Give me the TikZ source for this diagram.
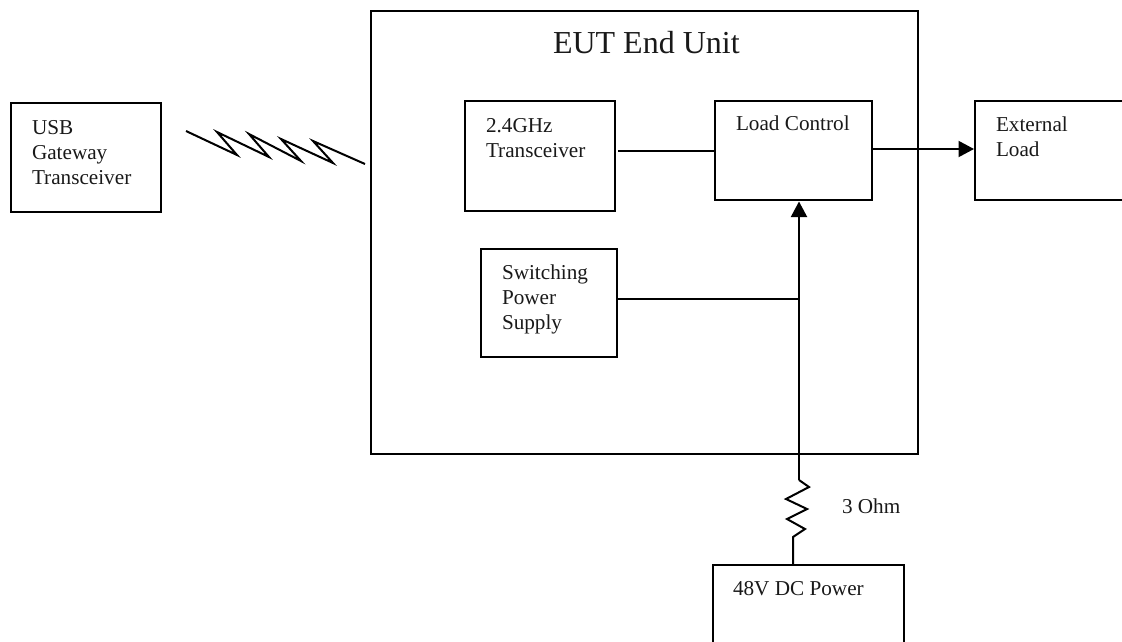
\documentclass[tikz,border=0pt]{standalone}
\usepackage{fontspec}
\setmainfont{Liberation Serif}
\usetikzlibrary{arrows.meta}
\tikzset{
  blockbox/.style={draw=black,line width=2pt,rectangle,inner sep=0pt,outer sep=0pt,minimum width=#1,anchor=north west},
  wire/.style={draw=black,line width=2pt,line join=miter},
  tag/.style={inner sep=0pt,outer sep=0pt,anchor=north west,align=left,font=\fontsize{21.2}{25}\selectfont,text=black!90},
  tip/.style={-{Triangle[length=15.5pt,width=16pt]}}
}
\begin{document}
\begin{tikzpicture}[x=1pt,y=-1pt]
\useasboundingbox (0,0) rectangle (1122,641);
\clip (0,0) rectangle (1122,641);
\node[blockbox=150pt,minimum height=109pt] (usb) at (11,103) {};
\node[blockbox=547pt,minimum height=443pt] (eut) at (371,11) {};
\node[blockbox=150pt,minimum height=110pt] (rf) at (465,101) {};
\node[blockbox=157pt,minimum height=99pt] (lc) at (715,101) {};
\node[blockbox=170pt,minimum height=99pt] (ext) at (975,101) {};
\node[blockbox=136pt,minimum height=108pt] (sw) at (481,249) {};
\node[blockbox=191pt,minimum height=100pt] (dc) at (713,565) {};

\node[tag,font=\fontsize{32}{36}\selectfont] (t0) at (553,31) {EUT End Unit};
\node[tag] (t1) at (32,120) {USB\\Gateway\\Transceiver};
\node[tag] (t2) at (486,118) {2.4GHz\\Transceiver};
\node[tag] (t3) at (736,116) {Load Control};
\node[tag] (t4) at (996,117) {External\\Load};
\node[tag] (t5) at (502,265) {Switching\\Power\\Supply};
\node[tag] (t6) at (733,581) {48V DC Power};
\node[tag] (t7) at (842,499) {3 Ohm};

\coordinate (rfout) at (618,151);
\coordinate (lcin) at (lc.west |- rfout);
\coordinate (extin) at (974,149);
\coordinate (lcout) at (lc.east |- extin);
\coordinate (swout) at (sw.east |- 0,299);
\coordinate (lcbot) at (799,201.5);
\coordinate (junc) at (799,299);
\coordinate (rtop) at (799,480);
\coordinate (rbot) at (793,537);
\coordinate (dctop) at (rbot |- dc.north);

\draw[wire] (rfout) -- (lcin);
\draw[wire,tip] (lcout) -- (extin);
\draw[wire] (swout) -- (junc);
\draw[wire,tip] (rtop) -- (lcbot);
\draw[wire] (rtop) -- (809,487) -- (786,499) -- (807,509) -- (787,519) -- (805,529) -- (rbot) -- (dctop);
\coordinate (ws) at (186,131);
\coordinate (we) at (365,164);
\draw[wire] (ws) -- (237,155) -- (217,132) -- (269,157) -- (249,134) -- (301,161) -- (281,139) -- (333,163) -- (313,141) -- (we);
\end{tikzpicture}
\end{document}
